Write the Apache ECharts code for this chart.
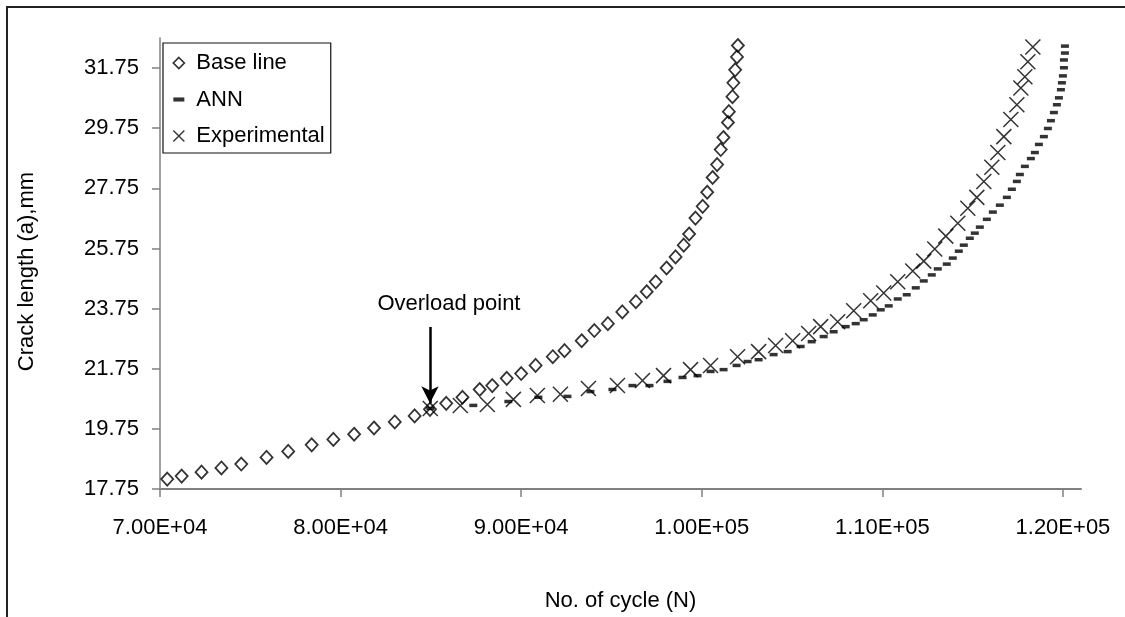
<!DOCTYPE html>
<html><head><meta charset="utf-8">
<script src="https://cdn.jsdelivr.net/npm/echarts@6/dist/echarts.min.js"></script>
<style>html,body{margin:0;padding:0;background:#fff}#c{width:1125px;height:617px}</style>
</head><body><div id="c"></div>
<script>
const seriesNames = ['Base line', 'ANN', 'Experimental'];

const baseN = [70400,71200,72300,73400,74500,75900,77100,78400,79600,80750,81850,83000,84100,84950,85850,86750,87700,88400,89200,90000,90800,91750,92400,93350,94050,94800,95600,96350,96950,97450,98050,98550,99000,99300,99650,100050,100300,100600,100850,101050,101200,101450,101500,101700,101750,101850,101950,102000];
const baseA = [18.08,18.18,18.31,18.45,18.58,18.80,19.00,19.22,19.40,19.57,19.78,19.98,20.18,20.40,20.60,20.80,21.06,21.19,21.43,21.59,21.86,22.15,22.35,22.68,23.02,23.25,23.64,23.98,24.31,24.64,25.10,25.47,25.86,26.23,26.76,27.15,27.62,28.11,28.54,29.04,29.44,29.94,30.30,30.80,31.26,31.69,32.12,32.50];

const annN = [84966,87350,89290,90953,92560,93835,95054,96163,97105,98103,98934,99766,100487,101207,101928,102537,103147,103978,104755,105475,106085,106750,107304,107969,108524,108967,109466,109910,110353,110852,111351,111850,112293,112737,113069,113568,113900,114233,114510,114843,115120,115397,115785,116118,116506,116894,117171,117448,117614,117892,118224,118446,118668,118945,119167,119333,119499,119665,119776,119887,119943,119998,120054,120054,120110,120110];
const annA = [20.43,20.53,20.66,20.80,20.83,20.99,21.06,21.19,21.19,21.33,21.46,21.52,21.66,21.72,21.86,21.99,22.05,22.22,22.32,22.49,22.65,22.82,22.98,23.15,23.25,23.38,23.54,23.71,23.84,24.07,24.21,24.44,24.67,24.87,25.07,25.23,25.43,25.66,25.86,26.09,26.26,26.46,26.72,26.96,27.19,27.45,27.72,27.98,28.21,28.48,28.74,28.94,29.21,29.47,29.74,30.00,30.27,30.53,30.76,31.03,31.26,31.49,31.76,32.02,32.25,32.48];

const expN = [84966,86629,88126,89567,90897,92172,93724,95332,96717,97881,99378,100487,101983,103147,104089,105032,105919,106584,107526,108413,109355,110076,110852,111683,112293,112903,113513,114178,114732,115231,115619,116062,116395,116727,117115,117448,117670,117892,118058,118335];
const expA = [20.43,20.53,20.56,20.73,20.86,20.90,21.09,21.19,21.36,21.52,21.72,21.86,22.15,22.32,22.52,22.68,22.92,23.15,23.31,23.68,24.01,24.27,24.64,25.00,25.33,25.73,26.16,26.59,27.09,27.45,27.98,28.45,28.94,29.47,30.04,30.53,31.09,31.46,31.96,32.45];

const xTickValues = [70000, 80000, 90000, 100000, 110000, 120000];
const xTickLabels = ['7.00E+04', '8.00E+04', '9.00E+04', '1.00E+05', '1.10E+05', '1.20E+05'];
const yTickValues = [17.75, 19.75, 21.75, 23.75, 25.75, 27.75, 29.75, 31.75];
const yTickLabels = ['17.75', '19.75', '21.75', '23.75', '25.75', '27.75', '29.75', '31.75'];

const overloadN = 84950;
const overloadArrowTop = 23.14;
const overloadArrowEnd = 20.6;
const overloadLabel = 'Overload point';

function pairs(xs, ys) { return xs.map((x, i) => [x, ys[i]]); }
const FONT = '"Liberation Sans", Arial, Helvetica, sans-serif';
const CROSS = 'path://M0,0L10,10M10,0L0,10';
const DASH = 'path://M0,0H8V3H0Z';

const chart = echarts.init(document.getElementById('c'), null, {renderer: 'canvas'});
chart.setOption({
  animation: false,
  backgroundColor: '#ffffff',
  textStyle: {fontFamily: FONT},
  grid: {left: 160, right: 44, top: 38, bottom: 126, containLabel: false},
  graphic: [{
    type: 'polyline', silent: true,
    shape: {points: [[7, 617], [7, 7], [1125, 7]]},
    style: {stroke: '#222', lineWidth: 2, fill: null}
  }],
  legend: {
    orient: 'vertical', left: 163, top: 43,
    selectedMode: false,
    backgroundColor: '#fff', borderColor: '#111', borderWidth: 1.2,
    padding: [9, 6, 6, 9.5],
    itemWidth: 11, itemHeight: 11, itemGap: 14.5,
    data: [
      {name: seriesNames[0], icon: 'diamond', itemStyle: {color: 'transparent', borderColor: '#000', borderWidth: 1.7}},
      {name: seriesNames[1], icon: DASH, itemStyle: {color: '#000', borderWidth: 0}},
      {name: seriesNames[2], icon: CROSS, itemStyle: {color: 'transparent', borderColor: '#000', borderWidth: 1.4}}
    ],
    formatter: n => '{a|' + n + '}',
    textStyle: {rich: {a: {fontSize: 22, lineHeight: 22, color: '#000', fontFamily: FONT, padding: [0, 0, 0, 7]}}}
  },
  xAxis: {
    type: 'value', min: 70000, max: 121000,
    splitLine: {show: false},
    axisLine: {show: true, lineStyle: {color: '#808080', width: 2}},
    axisTick: {show: true, length: 8, customValues: xTickValues, lineStyle: {color: '#808080', width: 1.5}},
    axisLabel: {customValues: xTickValues, formatter: v => xTickLabels[xTickValues.indexOf(v)] || '', color: '#000', fontSize: 22, fontFamily: FONT, margin: 28},
    name: 'No. of cycle (N)', nameLocation: 'middle', nameGap: 101,
    nameTextStyle: {fontSize: 22, fontFamily: FONT, color: '#000'}
  },
  yAxis: {
    type: 'value', min: 17.75, max: 32.75,
    splitLine: {show: false},
    axisLine: {show: true, lineStyle: {color: '#808080', width: 1.5}},
    axisTick: {show: true, length: 8, customValues: yTickValues, lineStyle: {color: '#808080', width: 1.5}},
    axisLabel: {customValues: yTickValues, formatter: v => { const i = yTickValues.findIndex(t => Math.abs(t - v) < 1e-6); return i >= 0 ? yTickLabels[i] : ''; }, color: '#000', fontSize: 22, fontFamily: FONT, margin: 21},
    name: 'Crack length (a),mm', nameLocation: 'middle', nameGap: 122, nameRotate: 90,
    nameTextStyle: {fontSize: 22, fontFamily: FONT, color: '#000', padding: [0, 16, 0, 0]}
  },
  series: [
    {
      name: seriesNames[0], type: 'scatter', data: pairs(baseN, baseA),
      symbol: 'diamond', symbolSize: [12, 13],
      itemStyle: {color: 'transparent', borderColor: '#000', borderWidth: 1.8},
      z: 2,
      markLine: {
        silent: true, animation: false,
        symbol: ['none', 'arrow'], symbolSize: [13, 17],
        lineStyle: {color: '#000', width: 2.5, type: 'solid'},
        label: {show: false},
        data: [[{coord: [overloadN, overloadArrowTop]}, {coord: [overloadN, overloadArrowEnd]}]]
      },
      markPoint: {
        silent: true, animation: false,
        data: [{coord: [86000, 23.91], symbol: 'circle', symbolSize: 1, itemStyle: {color: 'transparent'},
          label: {show: true, formatter: overloadLabel, position: 'inside', fontSize: 22, color: '#000', fontFamily: FONT}}]
      }
    },
    {
      name: seriesNames[1], type: 'scatter', data: pairs(annN, annA),
      symbol: DASH, symbolSize: [8, 3.5],
      itemStyle: {color: '#000'},
      z: 3
    },
    {
      name: seriesNames[2], type: 'scatter', data: pairs(expN, expA),
      symbol: CROSS, symbolSize: 15,
      itemStyle: {color: 'transparent', borderColor: '#000', borderWidth: 1.5},
      z: 4
    }
  ]
});
</script>
</body></html>
